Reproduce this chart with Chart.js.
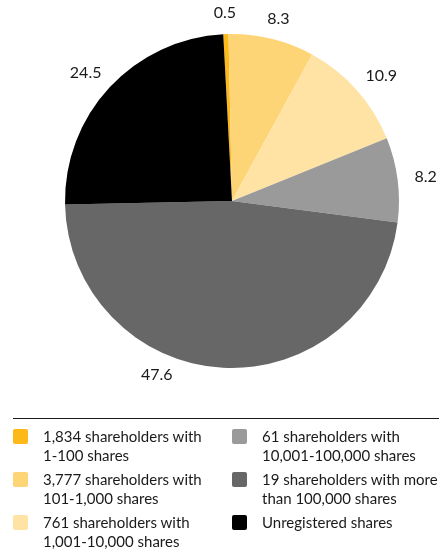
<!DOCTYPE html>
<html>
<head>
<meta charset="utf-8">
<script src="https://cdn.jsdelivr.net/npm/chart.js@4"></script>
<style>
  html, body { margin: 0; padding: 0; background: #fff; }
  #wrap { position: relative; width: 439px; height: 551px; overflow: hidden; }
  #chart { position: absolute; left: 0; top: 0; }
  #rule { position: absolute; left: 13px; top: 418px; width: 426px; height: 0; border-top: 1px solid #1a1a1a; }
  #legend { position: absolute; left: 0; top: 428px; width: 439px; font-family: Lato, "Noto Sans", sans-serif; font-size: 15px; line-height: 18.5px; color: #1a1a1a; }
  .item { position: absolute; white-space: nowrap; }
  .box { position: absolute; left: 0; top: 1px; width: 15px; height: 15px; border-radius: 2px; }
  .txt { position: absolute; left: 30px; top: -1px; }
</style>
</head>
<body>
<div id="wrap">
  <canvas id="chart" width="439" height="551"></canvas>
  <div id="rule"></div>
  <div id="legend"></div>
</div>
<script>
// Share distribution (% of share capital)
const categories = [
  ["1,834 shareholders with", "1-100 shares"],
  ["3,777 shareholders with", "101-1,000 shares"],
  ["761 shareholders with", "1,001-10,000 shares"],
  ["61 shareholders with", "10,001-100,000 shares"],
  ["19 shareholders with more", "than 100,000 shares"],
  ["Unregistered shares"]
];
const shares = [0.5, 8.3, 10.9, 8.2, 47.6, 24.5];
const colors = ["#FDB81A", "#FED576", "#FEE3A4", "#9A9A9A", "#676767", "#000000"];

// Value labels placed just outside each slice; the text box sits
// a fixed gap beyond the rim along the slice's middle angle
const outsideLabels = {
  id: 'outsideLabels',
  afterDatasetsDraw(chart, args, opts) {
    const ctx = chart.ctx;
    const meta = chart.getDatasetMeta(0);
    ctx.save();
    ctx.font = opts.font;
    ctx.fillStyle = opts.color;
    ctx.textAlign = 'center';
    ctx.textBaseline = 'middle';
    meta.data.forEach((arc, i) => {
      const p = arc.getProps(['x', 'y', 'startAngle', 'endAngle', 'outerRadius'], true);
      const nudge = ((opts.angleNudge && opts.angleNudge[i]) || 0) * Math.PI / 180;
      const mid = (p.startAngle + p.endAngle) / 2 + nudge;
      const text = String(shares[i]);
      const halfW = ctx.measureText(text).width / 2;
      const halfH = 4;
      const r = p.outerRadius + opts.gap;
      const cx = p.x + Math.cos(mid) * r + Math.cos(mid) * halfW;
      const cy = p.y + Math.sin(mid) * r + Math.sin(mid) * halfH;
      ctx.fillText(text, cx, cy);
    });
    ctx.restore();
  }
};

new Chart(document.getElementById('chart'), {
  type: 'pie',
  data: {
    labels: categories.map(c => c.join(' ')),
    datasets: [{
      data: shares,
      backgroundColor: colors,
      borderWidth: 0
    }]
  },
  options: {
    responsive: false,
    animation: false,
    rotation: -3,
    layout: { padding: { left: 65, right: 40, top: 34, bottom: 183 } },
    plugins: {
      legend: { display: false },
      tooltip: { enabled: false },
      outsideLabels: {
        font: '16px Lato, "Noto Sans", sans-serif',
        color: '#1a1a1a',
        gap: 17,
        angleNudge: { 4: 19 }
      }
    }
  },
  plugins: [outsideLabels]
});

// Two-column legend built from the same categories and colours
const legend = document.getElementById('legend');
categories.forEach((lines, i) => {
  const col = Math.floor(i / 3), row = i % 3;
  const item = document.createElement('div');
  item.className = 'item';
  item.style.left = (col === 0 ? 13 : 232) + 'px';
  item.style.top = (row * 43) + 'px';
  const box = document.createElement('div');
  box.className = 'box';
  box.style.background = colors[i];
  const txt = document.createElement('div');
  txt.className = 'txt';
  txt.innerHTML = lines.map(l => l.replace(/&/g, '&amp;').replace(/</g, '&lt;')).join('<br>');
  item.appendChild(box);
  item.appendChild(txt);
  legend.appendChild(item);
});
</script>
</body>
</html>
